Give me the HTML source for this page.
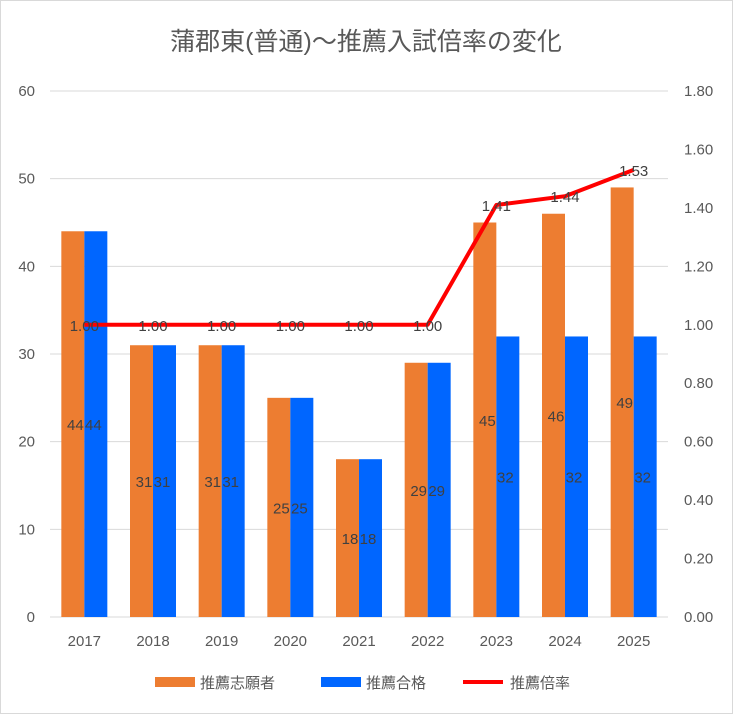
<!DOCTYPE html>
<html><head><meta charset="utf-8">
<style>
body{margin:0;background:#fff;}
svg{display:block;font-family:"Liberation Sans","Noto Sans CJK JP",sans-serif;}
</style></head>
<body>
<svg id="chart" width="733" height="714">
<rect x="0.5" y="0.5" width="732" height="713" fill="#fff" stroke="#d9d9d9"/>
<text x="366" y="50" text-anchor="middle" font-size="25" fill="#595959">蒲郡東(普通)～推薦入試倍率の変化</text>
<g id="grid"></g><g id="bars"></g><g id="line"></g><g id="labels"></g>
<g>
<rect x="155" y="677" width="40" height="10" fill="#ED7D31"/>
<text x="200" y="688" font-size="15" fill="#595959">推薦志願者</text>
<rect x="321" y="677" width="40" height="10" fill="#0066FF"/>
<text x="366" y="688" font-size="15" fill="#595959">推薦合格</text>
<line x1="463" y1="682" x2="503" y2="682" stroke="#FF0000" stroke-width="4"/>
<text x="510" y="688" font-size="15" fill="#595959">推薦倍率</text>
</g>
</svg>
<script>
const categories=["2017","2018","2019","2020","2021","2022","2023","2024","2025"];
const applicants=[44,31,31,25,18,29,45,46,49];
const accepted=[44,31,31,25,18,29,32,32,32];
const ratio=[1.00,1.00,1.00,1.00,1.00,1.00,1.41,1.44,1.53];
const leftTicks=[0,10,20,30,40,50,60];
const rightTicks=["0.00","0.20","0.40","0.60","0.80","1.00","1.20","1.40","1.60","1.80"];
const NS="http://www.w3.org/2000/svg";
const X0=50,X1=668,Y0=617,Y1=91;
const yL=v=>Y0-(v/60)*(Y0-Y1);
const yR=v=>Y0-(v/1.8)*(Y0-Y1);
const bw=(X1-X0)/categories.length;
const xc=i=>X0+bw*(i+0.5);
function mk(tag,attrs,parent,txt){const e=document.createElementNS(NS,tag);for(const k in attrs)e.setAttribute(k,attrs[k]);if(txt!==undefined)e.textContent=txt;document.getElementById(parent).appendChild(e);return e;}
leftTicks.forEach(t=>{
 const l=mk('line',{x1:X0,x2:X1,y1:yL(t),y2:yL(t),stroke:'#d9d9d9','stroke-width':1},'grid');
 
 
 const tx=mk('text',{x:35,y:yL(t)+5,'text-anchor':'end','font-size':15,fill:'#595959'},'grid',String(t));
 
 
});
rightTicks.forEach(t=>{
 const tx=mk('text',{x:684,y:yR(parseFloat(t))+5,'font-size':15,fill:'#595959'},'grid',t);
 
 
});
const w=23;
categories.forEach((c,i)=>{
 const cx=xc(i);
 const a=mk('rect',{x:cx-w,y:yL(applicants[i]),width:w,height:Y0-yL(applicants[i]),fill:'#ED7D31'},'bars');
 
 
 const b=mk('rect',{x:cx,y:yL(accepted[i]),width:w,height:Y0-yL(accepted[i]),fill:'#0066FF'},'bars');
 
 
 const t=mk('text',{x:cx,y:646,'text-anchor':'middle','font-size':15,fill:'#595959'},'labels',c);
 
 
 const la=mk('text',{x:cx-9,y:(yL(applicants[i])+Y0)/2+6,'text-anchor':'middle','font-size':15,fill:'#404040'},'labels',String(applicants[i]));
 
 
 const lb=mk('text',{x:cx+9,y:(yL(accepted[i])+Y0)/2+6,'text-anchor':'middle','font-size':15,fill:'#404040'},'labels',String(accepted[i]));
 
 
 const lr=mk('text',{x:cx,y:yR(ratio[i])+6,'text-anchor':'middle','font-size':15,fill:'#404040'},'labels',ratio[i].toFixed(2));
 
 
});
const p=mk('polyline',{points:ratio.map((v,i)=>xc(i)+','+yR(v)).join(' '),fill:'none',stroke:'#FF0000','stroke-width':4,'stroke-linejoin':'round'},'line');


</script>
</body></html>
